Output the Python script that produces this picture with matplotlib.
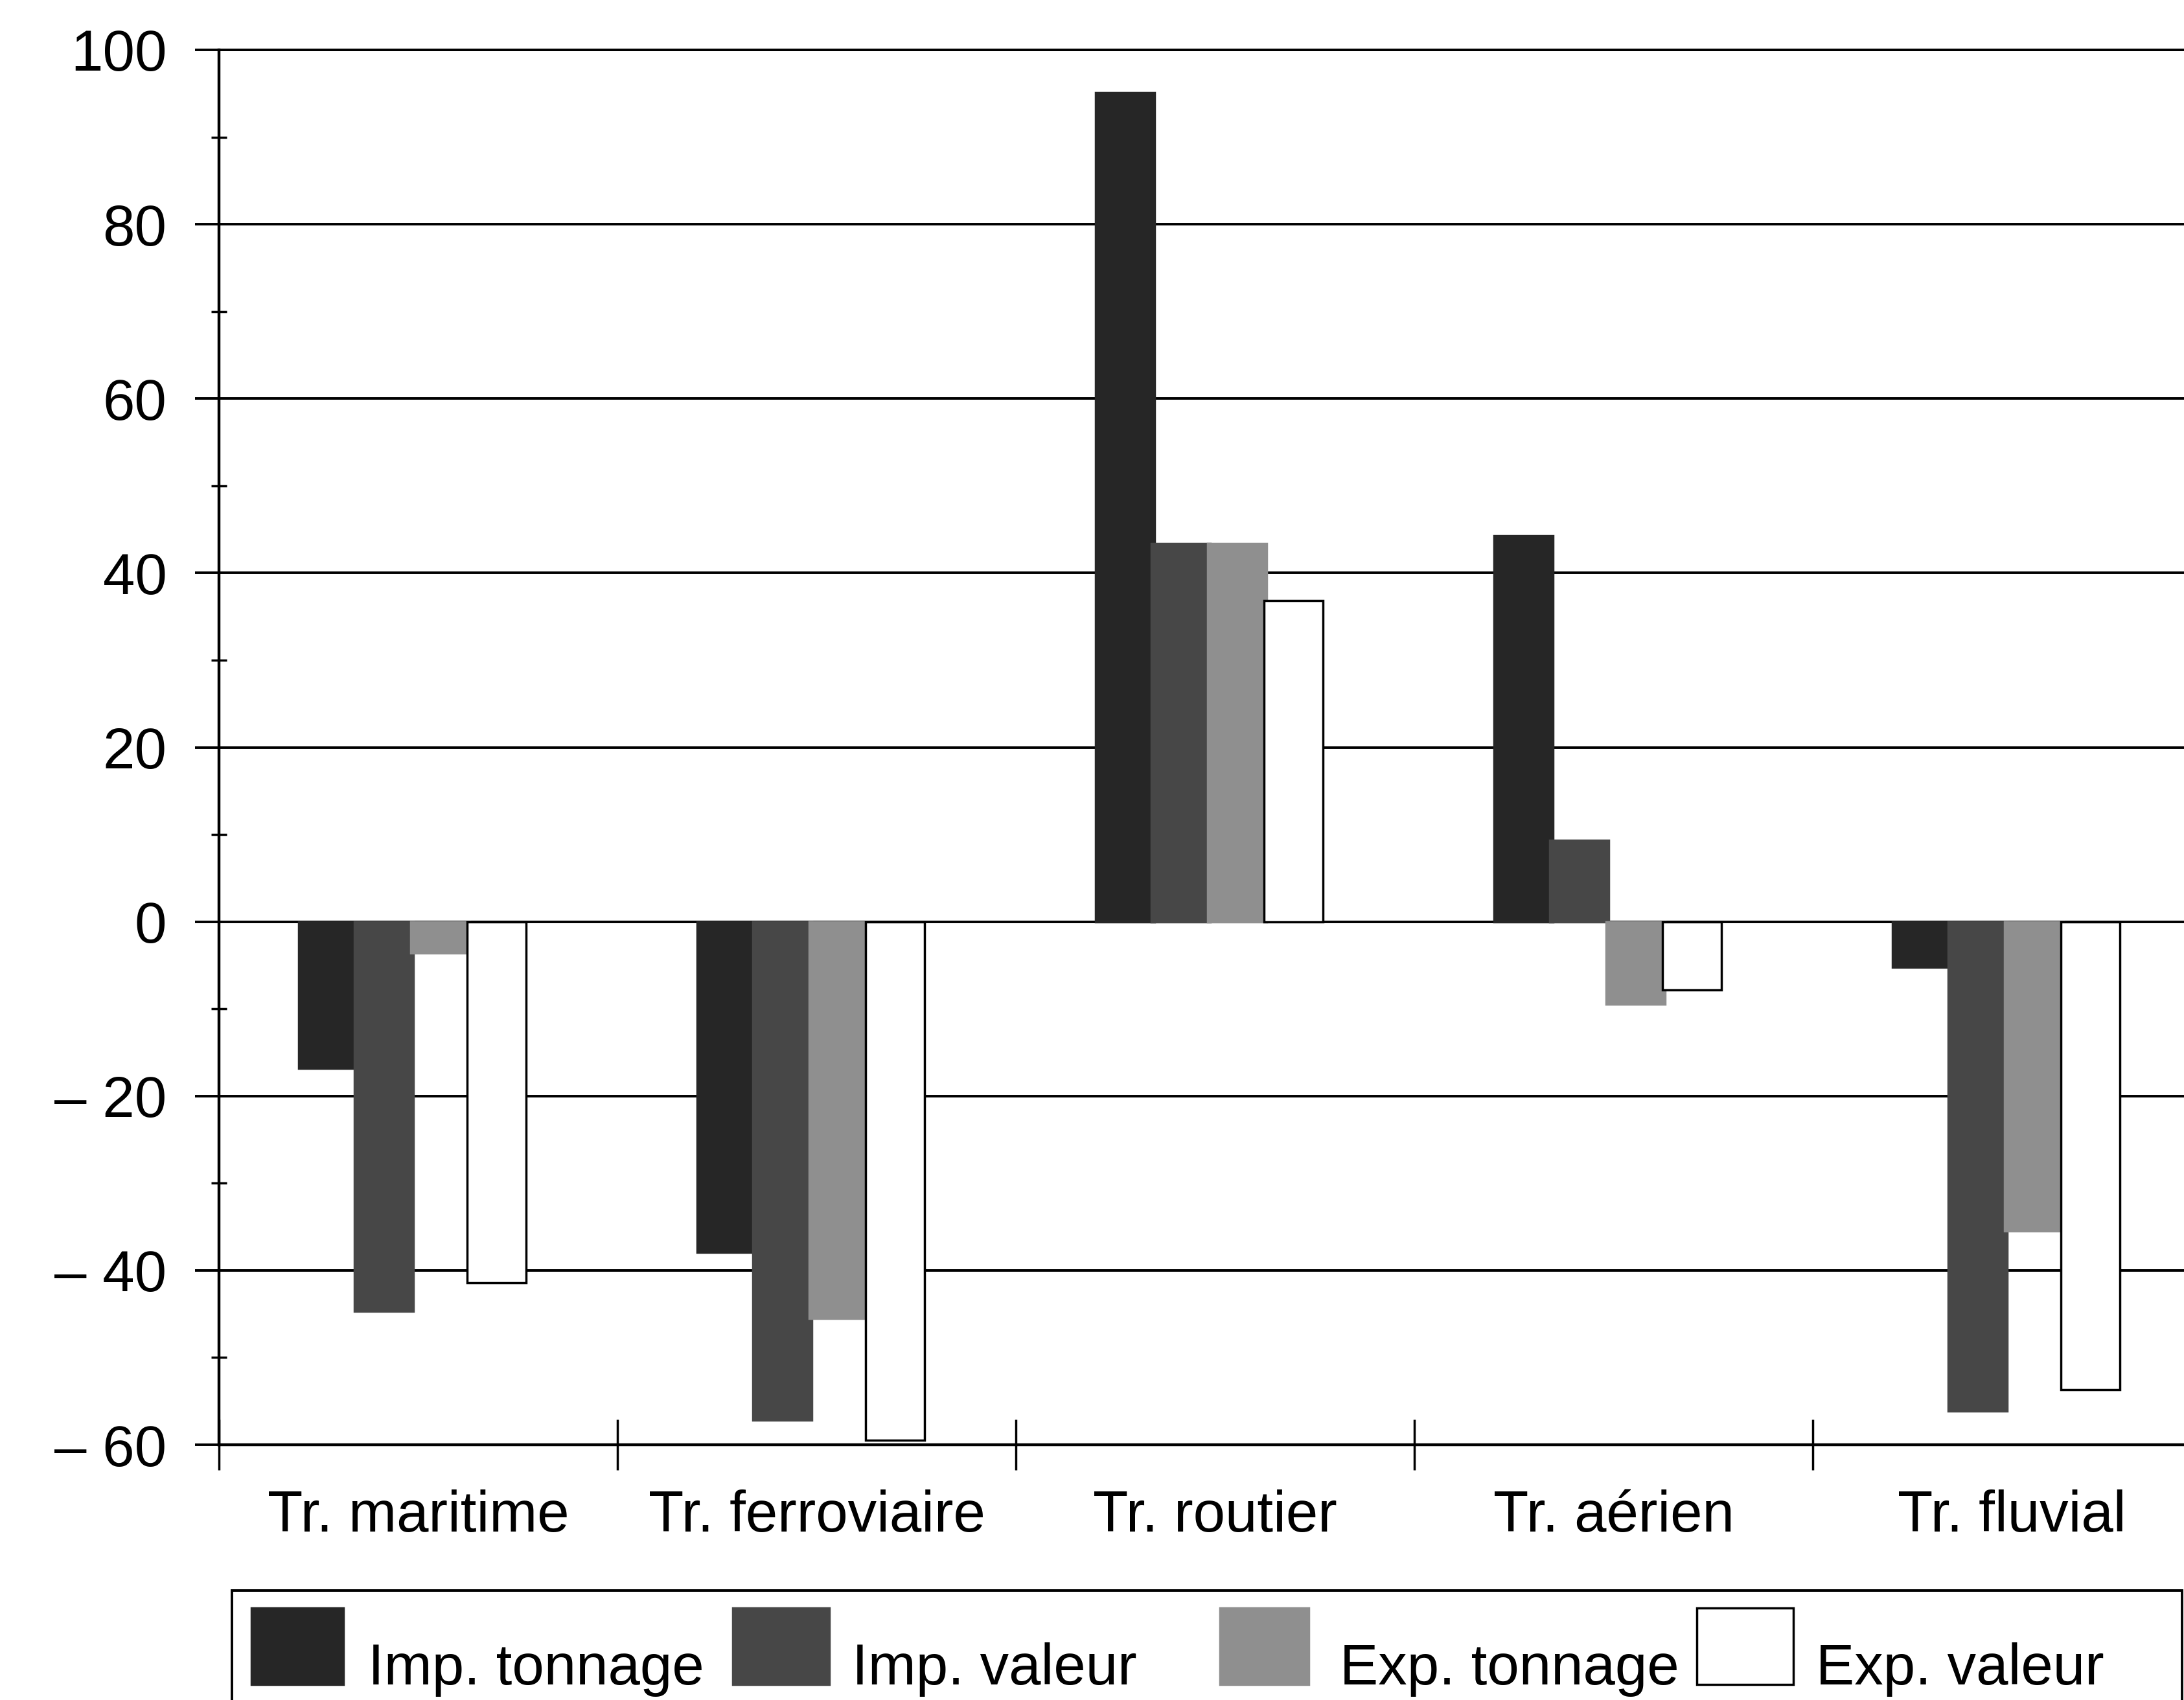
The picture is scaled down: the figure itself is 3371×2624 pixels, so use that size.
import numpy as np
import matplotlib
matplotlib.use("Agg")
import matplotlib.pyplot as plt
from matplotlib.patches import Rectangle
from matplotlib.ticker import FixedLocator, FixedFormatter

plt.rcParams['font.family'] = ['Liberation Sans', 'DejaVu Sans']

# ---- data ----
categories = ["Tr. maritime", "Tr. ferroviaire", "Tr. routier", "Tr. aérien", "Tr. fluvial"]
series_names = ["Imp. tonnage", "Imp. valeur", "Exp. tonnage", "Exp. valeur"]
imp_tonnage = [-16.8, -37.9, 95.1, 44.3, -5.2]
imp_valeur = [-44.7, -57.2, 43.4, 9.3, -56.1]
exp_tonnage = [-3.6, -45.5, 43.4, -9.5, -35.5]
exp_valeur = [-41.4, -59.5, 36.8, -7.8, -53.7]
y_ticks = [100, 80, 60, 40, 20, 0, -20, -40, -60]
y_ticklabels = ["100", "80", "60", "40", "20", "0", "\u2013 20", "\u2013 40", "\u2013 60"]

series = [imp_tonnage, imp_valeur, exp_tonnage, exp_valeur]
facecolors = ["#262626", "#474747", "#8f8f8f", "white"]
edgecolors = ["#262626", "#474747", "#8f8f8f", "black"]

W, H, DPI = 3371, 2624, 100
fig = plt.figure(figsize=(W / DPI, H / DPI), dpi=DPI)
fig.patch.set_facecolor("white")

ax = fig.add_axes([338 / W, 1 - 2230 / H, (3413 - 338) / W, (2230 - 77) / H])
ax.set_xlim(0, 5)
ax.set_ylim(-60, 100)

cat = np.arange(len(categories))
bw = 0.148
step = 0.141
for j, vals in enumerate(series):
    x = cat + 0.485 + (j - 1.5) * step
    ax.bar(x, vals, width=bw, color=facecolors[j], edgecolor=edgecolors[j],
           linewidth=2.5, zorder=3)

# grid
ax.yaxis.set_major_locator(FixedLocator(y_ticks))
ax.yaxis.set_major_formatter(FixedFormatter(y_ticklabels))
ax.yaxis.set_minor_locator(FixedLocator([90, 70, 50, 30, 10, -10, -30, -50]))
ax.grid(axis="y", which="major", color="black", linewidth=2.8, zorder=1)
ax.set_axisbelow(True)

ax.tick_params(axis="y", which="major", direction="out", length=27, width=2.8,
               pad=31, labelsize=64)
ax.tick_params(axis="y", which="minor", direction="inout", length=17, width=2.5)

# x ticks: separators at boundaries, labels at centers
ax.xaxis.set_major_locator(FixedLocator(np.arange(0, 6)))
ax.xaxis.set_major_formatter(FixedFormatter([""] * 6))
ax.xaxis.set_minor_locator(FixedLocator(cat + 0.5))
ax.xaxis.set_minor_formatter(FixedFormatter(categories))
ax.tick_params(axis="x", which="major", direction="inout", length=56, width=2.5)
ax.tick_params(axis="x", which="minor", length=0, pad=50, labelsize=64)

for s in ["top", "right"]:
    ax.spines[s].set_visible(False)
ax.spines["left"].set_linewidth(3.2)
ax.spines["bottom"].set_linewidth(3.2)
ax.axhline(100, color="black", linewidth=2.8, zorder=1, clip_on=False)

# ---- legend (manual box) ----
fig.patches.append(Rectangle((358 / W, 1 - 2640 / H), (3368 - 358) / W, (2640 - 2455) / H,
                             transform=fig.transFigure, facecolor="white",
                             edgecolor="black", linewidth=2.8, zorder=5))
patch_x = [388, 1131, 1883, 2619]
patch_w = [142, 149, 137, 149]
text_x = [568, 1315, 2068, 2803]
for j, name in enumerate(series_names):
    fig.patches.append(Rectangle((patch_x[j] / W, 1 - 2600 / H), patch_w[j] / W, 118 / H,
                                 transform=fig.transFigure, facecolor=facecolors[j],
                                 edgecolor="black" if j == 3 else edgecolors[j],
                                 linewidth=2.5, zorder=6))
    fig.text(text_x[j] / W, 1 - 2600 / H, name, fontsize=64, ha="left",
             va="baseline", zorder=7)

fig.savefig("out.png", dpi=DPI, facecolor="white")
